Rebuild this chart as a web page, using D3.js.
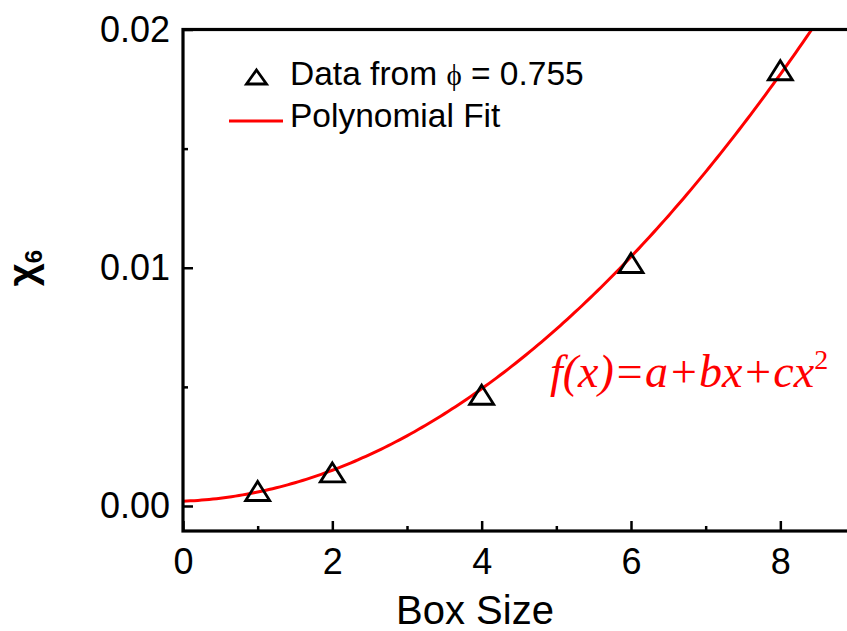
<!DOCTYPE html>
<html>
<head>
<meta charset="utf-8">
<script src="https://cdn.jsdelivr.net/npm/d3@7"></script>
<style>
  body { margin: 0; background: #fff; }
  svg text { font-family: "Liberation Sans", Arial, sans-serif; }
</style>
</head>
<body>
<div id="chart"></div>
<script>
// box size vs chi6
const boxSizes = [1, 2, 4, 6, 8];
const chiValues = [0.00063, 0.00141, 0.00467, 0.0102, 0.01829];
// fit coefficients for f(x)=a+bx+cx^2
const fitA = 0.0002, fitB = 0.00012, fitC = 0.000265;
const xMajor = [0, 2, 4, 6, 8];
const xMinor = [1, 3, 5, 7, 9];
const yMajor = [0, 0.01, 0.02];
const yMinor = [0.005, 0.015];

const W = 847, H = 631;
const mLeft = 183, mRight = 855, mTop = 29.5, mBottom = 531;

const svg = d3.select("#chart").append("svg")
    .attr("width", W).attr("height", H);

const x = d3.scaleLinear().domain([0, 9]).range([mLeft, mRight]);
const y = d3.scaleLinear().domain([-0.00105, 0.02]).range([mBottom, mTop]);

svg.append("clipPath").attr("id", "clip")
  .append("rect").attr("x", mLeft).attr("y", mTop)
  .attr("width", mRight - mLeft).attr("height", mBottom - mTop);

// fitted curve
const fitPts = d3.range(0, 9.001, 0.05).map(v => [v, fitA + fitB * v + fitC * v * v]);
svg.append("path")
    .datum(fitPts)
    .attr("clip-path", "url(#clip)")
    .attr("fill", "none")
    .attr("stroke", "#ff0000")
    .attr("stroke-width", 3)
    .attr("d", d3.line().x(d => x(d[0])).y(d => y(d[1])));

// axes (ticks point inward)
function styleAxis(g) {
  g.select(".domain").remove();
  g.selectAll(".tick line").attr("stroke", "#000").attr("stroke-width", 2.5);
  g.selectAll(".tick text").attr("fill", "#000").style("font-size", "36px");
}
svg.append("g").attr("transform", `translate(0,${mBottom})`)
  .call(d3.axisBottom(x).tickValues(xMajor).tickSize(-10).tickPadding(17).tickFormat(d3.format("d")))
  .call(styleAxis);
svg.append("g").attr("transform", `translate(0,${mBottom})`)
  .call(d3.axisBottom(x).tickValues(xMinor).tickSize(-5).tickFormat(""))
  .call(styleAxis);
svg.append("g").attr("transform", `translate(${mLeft},0)`)
  .call(d3.axisLeft(y).tickValues(yMajor).tickSize(-10).tickPadding(13).tickFormat(d3.format(".2f")))
  .call(styleAxis);
svg.append("g").attr("transform", `translate(${mLeft},0)`)
  .call(d3.axisLeft(y).tickValues(yMinor).tickSize(-5).tickFormat(""))
  .call(styleAxis);

// frame
svg.append("rect")
    .attr("x", mLeft).attr("y", mTop)
    .attr("width", mRight - mLeft).attr("height", mBottom - mTop)
    .attr("fill", "none").attr("stroke", "#000").attr("stroke-width", 3.2);

// data triangles
const tri = (hw, hh) => `M0,${-hh}L${hw},${hh}L${-hw},${hh}Z`;
svg.selectAll(".pt")
  .data(boxSizes)
  .enter().append("path")
    .attr("class", "pt")
    .attr("transform", (d, i) => `translate(${x(d)},${y(chiValues[i])})`)
    .attr("d", tri(12, 9.5))
    .attr("fill", "none")
    .attr("stroke", "#000")
    .attr("stroke-width", 2.8)
    .attr("stroke-linejoin", "miter");

// legend
svg.append("path")
    .attr("transform", "translate(256.5,77)")
    .attr("d", tri(10, 7))
    .attr("fill", "none").attr("stroke", "#000").attr("stroke-width", 2.8);
const lt = svg.append("text").attr("x", 290).attr("y", 85)
    .style("font-size", "33.5px").attr("fill", "#000");
lt.append("tspan").text("Data from ");
lt.append("tspan").style("font-family", "'Liberation Serif', serif").style("font-size", "29px").text("\u03d5");
lt.append("tspan").text(" = 0.755");

svg.append("line")
    .attr("x1", 229).attr("x2", 283).attr("y1", 121).attr("y2", 121)
    .attr("stroke", "#ff0000").attr("stroke-width", 3);
svg.append("text").attr("x", 290).attr("y", 127)
    .style("font-size", "33.5px").attr("fill", "#000").text("Polynomial Fit");

// formula
const ft = svg.append("text").attr("x", 550).attr("y", 387)
    .style("font-family", "'Liberation Serif', 'Times New Roman', serif")
    .style("font-style", "italic").style("font-size", "46px")
    .attr("fill", "#ff0000");
ft.append("tspan").text("f(x)=a+bx+cx");
ft.append("tspan").attr("dy", -18).style("font-size", "28px").style("font-style", "normal").text("2");

// axis titles
svg.append("text").attr("x", 475).attr("y", 624)
    .attr("text-anchor", "middle").style("font-size", "40px").attr("fill", "#000")
    .text("Box Size");

const yt = svg.append("text")
    .attr("transform", "translate(36,268) rotate(-90)")
    .attr("text-anchor", "middle").style("font-weight", "bold").attr("fill", "#000");
yt.append("tspan").style("font-size", "40px").text("\u03c7");
yt.append("tspan").attr("dy", 6).style("font-size", "24px").text("6");
</script>
</body>
</html>
